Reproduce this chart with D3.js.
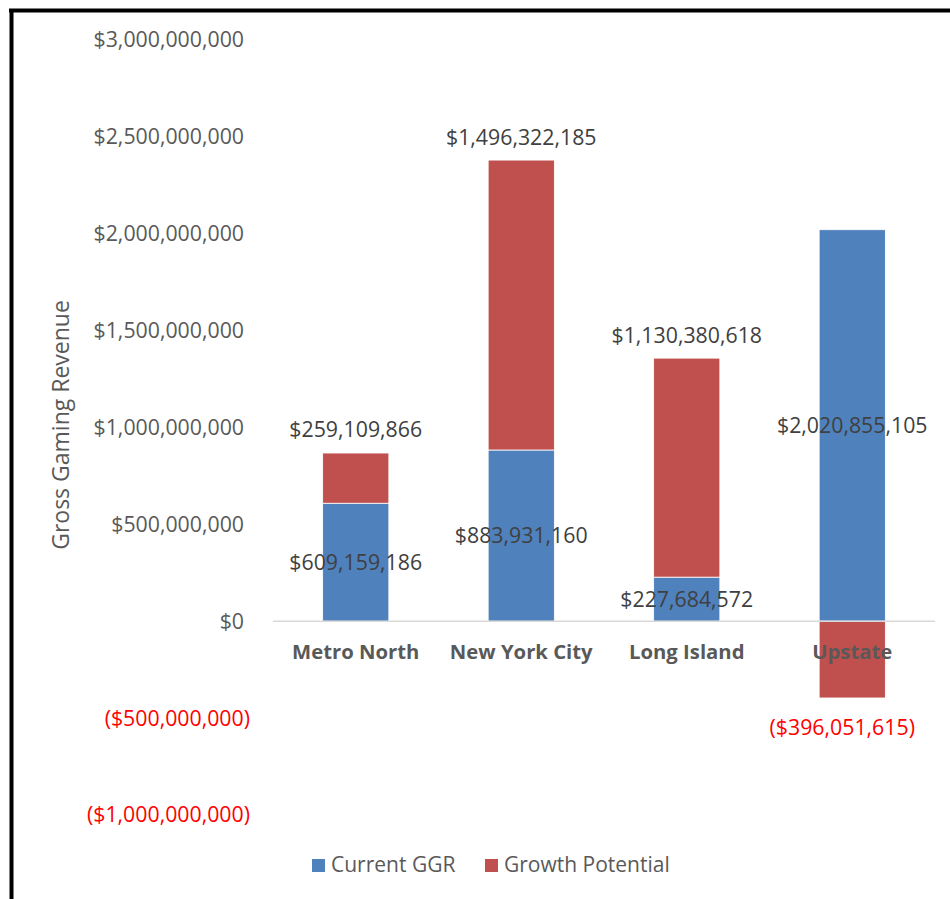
<!DOCTYPE html>
<html>
  <head>
    <meta charset="utf-8" />
    <script src="https://d3js.org/d3.v7.min.js"></script>
    <title>Gross Gaming Revenue</title>
    <style>
      body { margin: 0; background: #fff; }
      text { font-family: "Open Sans", Lato, sans-serif; }
    </style>
  </head>
  <body>
    <svg id="chart" width="950" height="899"></svg>
    <script>
      var regions = ["Metro North", "New York City", "Long Island", "Upstate"];
      var currentGGR = [609159186, 883931160, 227684572, 2020855105];
      var growthPotential = [259109866, 1496322185, 1130380618, -396051615];
      var yTicks = [-1000000000, -500000000, 0, 500000000, 1000000000, 1500000000, 2000000000, 2500000000, 3000000000];
      var seriesNames = ["Current GGR", "Growth Potential"];
      var colors = ["#4f81bd", "#c0504d"];

      var svg = d3.select("#chart");

      // frame lines (left + top)
      svg.append("line").attr("x1", 11.5).attr("x2", 11.5).attr("y1", 9).attr("y2", 899)
        .attr("stroke", "#000").attr("stroke-width", 4);
      svg.append("line").attr("x1", 9).attr("x2", 950).attr("y1", 10.5).attr("y2", 10.5)
        .attr("stroke", "#000").attr("stroke-width", 4);

      var x = d3.scaleBand().domain(regions).range([273, 935]).paddingInner(0.6).paddingOuter(0.3);
      var y = d3.scaleLinear().domain([-1000000000, 3000000000]).range([815, 40]);

      var fmt = d3.format("$,.0f");
      function money(v) {
        return v < 0 ? "(" + fmt(-v) + ")" : fmt(v);
      }

      // y tick labels
      svg.append("g").selectAll("text").data(yTicks).enter().append("text")
        .attr("x", function(d) { return d < 0 ? 250 : 244; })
        .attr("y", function(d) { return y(d); })
        .attr("dy", "0.35em")
        .attr("text-anchor", "end")
        .attr("font-size", 21.3)
        .attr("fill", function(d) { return d < 0 ? "#ff0000" : "#595959"; })
        .text(money);

      // axis title
      svg.append("text")
        .attr("transform", "translate(69,425) rotate(-90)")
        .attr("text-anchor", "middle")
        .attr("font-size", 23)
        .attr("fill", "#595959")
        .text("Gross Gaming Revenue");

      // stacked bars
      var rows = regions.map(function(r, i) {
        var c = currentGGR[i], g = growthPotential[i];
        var cur = { region: r, s: 0, y0: 0, y1: c, v: c };
        var gro = g >= 0 ? { region: r, s: 1, y0: c, y1: c + g, v: g } : { region: r, s: 1, y0: g, y1: 0, v: g };
        return [cur, gro];
      });
      var segs = d3.merge(rows);

      svg.append("g").selectAll("rect").data(segs).enter().append("rect")
        .attr("x", function(d) { return x(d.region); })
        .attr("width", x.bandwidth())
        .attr("y", function(d) { return y(d.y1); })
        .attr("height", function(d) { return y(d.y0) - y(d.y1); })
        .attr("fill", function(d) { return colors[d.s]; })
        .attr("stroke", "#fff")
        .attr("stroke-width", 0.8);

      // zero line
      svg.append("line")
        .attr("x1", 273).attr("x2", 935)
        .attr("y1", y(0)).attr("y2", y(0))
        .attr("stroke", "#d9d9d9").attr("stroke-width", 1.5);

      // category labels
      svg.append("g").selectAll("text").data(regions).enter().append("text")
        .attr("x", function(d) { return x(d) + x.bandwidth() / 2; })
        .attr("y", 652)
        .attr("dy", "0.35em")
        .attr("text-anchor", "middle")
        .attr("font-size", 20.3)
        .attr("font-weight", "bold")
        .attr("fill", "#595959")
        .text(function(d) { return d; });

      // data labels
      svg.append("g").selectAll("text").data(segs).enter().append("text")
        .attr("x", function(d) { return x(d.region) + x.bandwidth() / 2 - (d.v < 0 ? 10 : 0); })
        .attr("y", function(d) {
          if (d.s === 0) return (y(d.y0) + y(d.y1)) / 2;
          if (d.v >= 0) return y(d.y1) - 23;
          return y(d.y0) + 30;
        })
        .attr("dy", "0.35em")
        .attr("text-anchor", "middle")
        .attr("font-size", 21.3)
        .attr("fill", function(d) { return d.v < 0 ? "#ff0000" : "#404040"; })
        .text(function(d) { return money(d.v); });

      // legend
      var legend = svg.append("g");
      var lx = [312, 485];
      seriesNames.forEach(function(name, i) {
        legend.append("rect").attr("x", lx[i]).attr("y", 859).attr("width", 13).attr("height", 13)
          .attr("fill", colors[i]);
        legend.append("text").attr("x", lx[i] + 19).attr("y", 865).attr("dy", "0.35em")
          .attr("font-size", 21).attr("fill", "#595959").text(name);
      });
    </script>
  </body>
</html>
